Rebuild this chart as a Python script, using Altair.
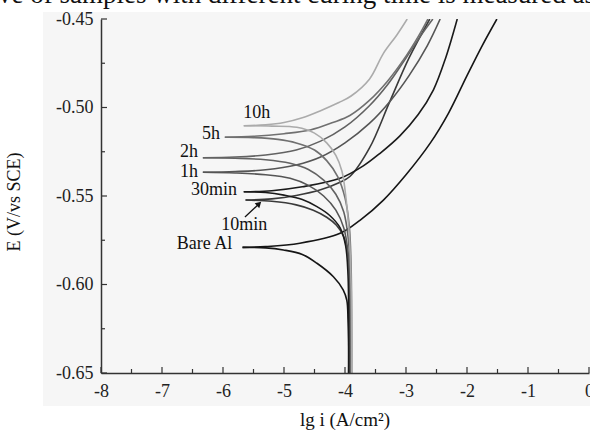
import altair as alt
import pandas as pd

# ---------------- data ----------------
SAMPLES = ["Bare Al", "10min", "30min", "1h", "2h", "5h", "10h"]
COLORS = ["#151515", "#3a3a3a", "#1a1a1a", "#555555", "#626262", "#707070", "#ababab"]

# cathodic branches (from Ecorr downwards)
bare_c_x = [-5.68, -5.30, -5.01, -4.70, -4.46, -4.19, -4.03, -3.97, -3.95, -3.94, -3.94]
bare_c_e = [-0.579, -0.5793, -0.5805, -0.583, -0.588, -0.5956, -0.603, -0.609, -0.620, -0.635, -0.650]
m10_c_x = [-5.63, -5.20, -4.80, -4.52, -4.30, -4.14, -4.02, -3.96, -3.93, -3.92, -3.92]
m10_c_e = [-0.5523, -0.5530, -0.5550, -0.5580, -0.5620, -0.5665, -0.5730, -0.5820, -0.6000, -0.6250, -0.650]
m30_c_x = [-5.66, -5.30, -5.00, -4.70, -4.46, -4.25, -4.08, -3.99, -3.95, -3.94, -3.94]
m30_c_e = [-0.5476, -0.548, -0.5495, -0.552, -0.556, -0.561, -0.568, -0.578, -0.595, -0.620, -0.650]
h1_c_x = [-6.33, -5.80, -5.30, -4.90, -4.60, -4.35, -4.15, -4.02, -3.95, -3.92, -3.91]
h1_c_e = [-0.5366, -0.537, -0.538, -0.540, -0.544, -0.550, -0.558, -0.568, -0.582, -0.600, -0.650]
h2_c_x = [-6.33, -5.80, -5.30, -4.90, -4.60, -4.35, -4.15, -4.02, -3.95, -3.91, -3.90]
h2_c_e = [-0.5284, -0.5287, -0.5295, -0.5315, -0.535, -0.541, -0.549, -0.559, -0.573, -0.595, -0.650]
h5_c_x = [-5.97, -5.50, -5.10, -4.80, -4.50, -4.30, -4.12, -4.00, -3.93, -3.90, -3.89]
h5_c_e = [-0.5168, -0.517, -0.518, -0.520, -0.524, -0.530, -0.539, -0.551, -0.567, -0.590, -0.650]
h10_c_x = [-5.66, -5.20, -4.79, -4.50, -4.30, -4.15, -4.05, -3.98, -3.93, -3.90, -3.89]
h10_c_e = [-0.5103, -0.5105, -0.5112, -0.5145, -0.520, -0.527, -0.536, -0.5523, -0.572, -0.600, -0.650]

# anodic branches (from Ecorr upwards)
bare_a_x = [-5.68, -5.30, -4.74, -4.08, -3.75, -3.37, -3.00, -2.60, -2.30, -2.00, -1.75, -1.51]
bare_a_e = [-0.579, -0.5786, -0.5767, -0.5711, -0.5636, -0.5523, -0.538, -0.520, -0.503, -0.482, -0.465, -0.450]
m10_a_x = [-5.63, -5.20, -4.80, -4.40, -4.10, -3.92, -3.60, -3.27, -2.95, -2.61]
m10_a_e = [-0.5523, -0.5516, -0.5497, -0.5465, -0.5425, -0.539, -0.523, -0.497, -0.472, -0.450]
m30_a_x = [-5.66, -5.20, -4.70, -4.08, -3.70, -3.43, -3.10, -2.80, -2.55, -2.35, -2.16]
m30_a_e = [-0.5476, -0.5470, -0.5448, -0.540, -0.533, -0.526, -0.516, -0.504, -0.490, -0.472, -0.450]
h1_a_x = [-6.33, -5.80, -5.30, -4.80, -4.40, -4.00, -3.60, -3.25, -2.95, -2.65, -2.44]
h1_a_e = [-0.5366, -0.5362, -0.5352, -0.5325, -0.528, -0.520, -0.509, -0.496, -0.482, -0.465, -0.450]
h2_a_x = [-6.33, -5.80, -5.30, -4.80, -4.40, -4.00, -3.60, -3.30, -3.00, -2.75, -2.56]
h2_a_e = [-0.5284, -0.5280, -0.5268, -0.524, -0.519, -0.511, -0.499, -0.487, -0.472, -0.459, -0.450]
h5_a_x = [-5.97, -5.50, -5.00, -4.57, -4.20, -3.92, -3.60, -3.30, -3.00, -2.80, -2.64]
h5_a_e = [-0.5168, -0.5163, -0.5148, -0.5127, -0.5085, -0.5045, -0.496, -0.485, -0.471, -0.460, -0.450]
h10_a_x = [-5.66, -5.30, -5.00, -4.70, -4.40, -4.10, -3.90, -3.60, -3.37, -3.15, -2.98]
h10_a_e = [-0.5103, -0.5098, -0.5085, -0.5058, -0.5018, -0.4972, -0.4935, -0.4840, -0.4694, -0.4590, -0.450]

BRANCHES = {
    "Bare Al": [(bare_c_x, bare_c_e), (bare_a_x, bare_a_e)],
    "10min": [(m10_c_x, m10_c_e), (m10_a_x, m10_a_e)],
    "30min": [(m30_c_x, m30_c_e), (m30_a_x, m30_a_e)],
    "1h": [(h1_c_x, h1_c_e), (h1_a_x, h1_a_e)],
    "2h": [(h2_c_x, h2_c_e), (h2_a_x, h2_a_e)],
    "5h": [(h5_c_x, h5_c_e), (h5_a_x, h5_a_e)],
    "10h": [(h10_c_x, h10_c_e), (h10_a_x, h10_a_e)],
}

# curve labels
LABEL_TEXT = ["10h", "5h", "2h", "1h", "30min", "10min", "Bare Al"]
LABEL_X = [-5.67, -6.05, -6.41, -6.41, -5.77, -6.03, -5.85]
LABEL_E = [-0.5031, -0.5150, -0.5251, -0.5364, -0.5466, -0.5665, -0.5774]
LABEL_ALIGN = ["left", "right", "right", "right", "right", "left", "right"]

X_TICKS = [-8, -7, -6, -5, -4, -3, -2, -1, 0]
X_MINOR = [-7.5, -6.5, -5.5, -4.5, -3.5, -2.5, -1.5, -0.5]
Y_TICKS = [-0.65, -0.60, -0.55, -0.50, -0.45]
Y_MINOR = [-0.625, -0.575, -0.525, -0.475]

# arrow for the 10min label (tail -> head)
ARROW = {"x": [-5.64], "e": [-0.5619], "x2": [-5.42], "e2": [-0.5548]}

TOP_TEXT = "ve of samples with different curing time is measured as s"

# ---------------- build tables ----------------
rows = []
for s in SAMPLES:
    for bi, (xs_, es_) in enumerate(BRANCHES[s]):
        for k, (xv, ev) in enumerate(zip(xs_, es_)):
            rows.append({"sample": s, "branch": f"{s}-{bi}", "k": k, "x": xv, "E": ev})
curves = pd.DataFrame(rows)
labels = pd.DataFrame({"t": LABEL_TEXT, "x": LABEL_X, "E": LABEL_E, "al": LABEL_ALIGN})

W, H = 488, 354
FONT = "Liberation Serif"
xs = alt.Scale(domain=[-8, 0], nice=False, zero=False)
ys = alt.Scale(domain=[-0.65, -0.45], nice=False, zero=False)

bg = alt.Chart(pd.DataFrame({"a": [0]})).mark_rect(color="#f6f6f6").encode(
    x=alt.value(-58), x2=alt.value(W + 2), y=alt.value(-7), y2=alt.value(H + 33)
)

lines = alt.Chart(curves).mark_line(interpolate="catmull-rom", strokeWidth=1.6, clip=True).encode(
    x=alt.X("x:Q", scale=xs,
            axis=alt.Axis(values=X_TICKS, ticks=False, tickSize=0, grid=False, title=None, zindex=2,
                          labelFont=FONT, labelFontSize=18, labelColor="#222",
                          labelPadding=9, labelExpr="replace(format(datum.value, 'd'), '\u2212', '-')",
                          domainColor="#333", domainWidth=1.5, labelFlush=False)),
    y=alt.Y("E:Q", scale=ys,
            axis=alt.Axis(values=Y_TICKS, ticks=False, tickSize=0, grid=False, title=None, zindex=2,
                          labelFont=FONT, labelFontSize=18, labelColor="#222",
                          labelPadding=8, labelExpr="replace(format(datum.value, '.2f'), '\u2212', '-')",
                          domainColor="#333", domainWidth=1.5, labelFlush=False)),
    color=alt.Color("sample:N", scale=alt.Scale(domain=SAMPLES, range=COLORS), legend=None),
    detail="branch:N",
    order="k:Q",
)

xt_major = alt.Chart(pd.DataFrame({"x": X_TICKS})).mark_rule(color="#333", strokeWidth=1.2).encode(
    x=alt.X("x:Q", scale=xs), y=alt.value(H), y2=alt.value(H - 6))
xt_minor = alt.Chart(pd.DataFrame({"x": X_MINOR})).mark_rule(color="#333", strokeWidth=1.2).encode(
    x=alt.X("x:Q", scale=xs), y=alt.value(H), y2=alt.value(H - 4))
yt_major = alt.Chart(pd.DataFrame({"E": Y_TICKS})).mark_rule(color="#333", strokeWidth=1.2).encode(
    y=alt.Y("E:Q", scale=ys), x=alt.value(0), x2=alt.value(6))
yt_minor = alt.Chart(pd.DataFrame({"E": Y_MINOR})).mark_rule(color="#333", strokeWidth=1.2).encode(
    y=alt.Y("E:Q", scale=ys), x=alt.value(0), x2=alt.value(4))

lab_r = alt.Chart(labels[labels.al == "right"]).mark_text(
    font=FONT, fontSize=18, align="right", baseline="middle", color="#111").encode(
    x=alt.X("x:Q", scale=xs), y=alt.Y("E:Q", scale=ys), text="t:N")
lab_l = alt.Chart(labels[labels.al == "left"]).mark_text(
    font=FONT, fontSize=18, align="left", baseline="middle", color="#111").encode(
    x=alt.X("x:Q", scale=xs), y=alt.Y("E:Q", scale=ys), text="t:N")

arrow_df = pd.DataFrame(ARROW)
arrow_line = alt.Chart(arrow_df).mark_rule(color="#111", strokeWidth=1.3).encode(
    x=alt.X("x:Q", scale=xs), y=alt.Y("e:Q", scale=ys), x2="x2:Q", y2="e2:Q")
arrow_head = alt.Chart(arrow_df).mark_point(shape="triangle", filled=True, size=45, angle=47,
                                             color="#111", opacity=1).encode(
    x=alt.X("x2:Q", scale=xs), y=alt.Y("e2:Q", scale=ys))

xtitle = alt.Chart(pd.DataFrame({"t": ["lg i (A/cm\u00b2)"]})).mark_text(
    font=FONT, fontSize=19, align="center", baseline="middle", color="#111").encode(
    text="t:N", x=alt.value(244), y=alt.value(401))
ytitle = alt.Chart(pd.DataFrame({"t": ["E (V/vs SCE)"]})).mark_text(
    font=FONT, fontSize=18, align="center", baseline="middle", angle=270, color="#111").encode(
    text="t:N", x=alt.value(-86), y=alt.value(183))
toptext = alt.Chart(pd.DataFrame({"t": [TOP_TEXT]})).mark_text(
    font=FONT, fontSize=27, align="left", baseline="alphabetic", color="#111").encode(
    text="t:N", x=alt.value(-103), y=alt.value(-16))

chart = alt.layer(
    bg, lines, xt_major, xt_minor, yt_major, yt_minor, lab_r, lab_l,
    arrow_line, arrow_head, xtitle, ytitle, toptext
).properties(
    width=W, height=H,
    autosize=alt.AutoSizeParams(type="none"),
    padding={"left": 101, "top": 19, "right": 1, "bottom": 61},
    background="white",
).configure_view(stroke=None)

chart.save("out.html", embed_options={"renderer": "svg", "actions": False})
